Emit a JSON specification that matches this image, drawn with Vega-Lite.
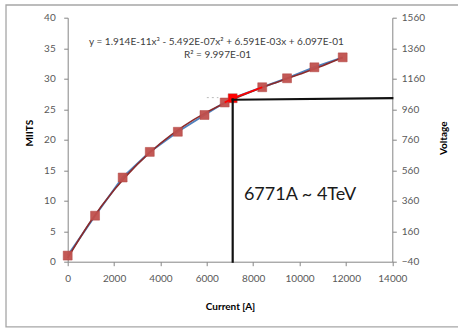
{
  "$schema": "https://vega.github.io/schema/vega-lite/v6.json",
  "autosize": {"type": "none"},
  "width": 324.6,
  "height": 244,
  "padding": {"left": 67.7, "top": 17.7, "right": 65.7, "bottom": 67.3},
  "background": "#ffffff",
  "config": {
    "view": {"stroke": null},
    "axis": {"grid": false, "domainColor": "#868686", "tickColor": "#868686", "tickSize": 4, "labelColor": "#595959", "labelFont": "Lato", "labelFontSize": 10, "labelOverlap": false, "labelFlush": false, "format": "d", "titleFont": "Lato", "titleFontSize": 10, "titleFontWeight": "bold", "titleColor": "#000000"}
  },
  "datasets": {
    "points": [
      {"current": 0, "miits": 1.0},
      {"current": 1180, "miits": 7.54},
      {"current": 2370, "miits": 13.8},
      {"current": 3540, "miits": 18.0},
      {"current": 4750, "miits": 21.3},
      {"current": 5900, "miits": 24.05},
      {"current": 6771, "miits": 26.1},
      {"current": 7116, "miits": 26.8},
      {"current": 8390, "miits": 28.6},
      {"current": 9460, "miits": 30.07},
      {"current": 10640, "miits": 31.87},
      {"current": 11860, "miits": 33.5}
    ],
    "trend": [
      {"current": 0, "miits": 0.61},
      {"current": 1000, "miits": 6.671},
      {"current": 2000, "miits": 11.748},
      {"current": 3000, "miits": 15.957},
      {"current": 4000, "miits": 19.412},
      {"current": 5000, "miits": 22.227},
      {"current": 6000, "miits": 24.519},
      {"current": 7000, "miits": 26.401},
      {"current": 8000, "miits": 27.989},
      {"current": 9000, "miits": 29.397},
      {"current": 10000, "miits": 30.74},
      {"current": 11000, "miits": 32.133},
      {"current": 11860, "miits": 33.46}
    ],
    "highlight": [
      {"current": 6771, "miits": 26.1},
      {"current": 7116, "miits": 26.8},
      {"current": 8390, "miits": 28.6}
    ]
  },
  "layer": [
    {
      "data": {"values": [{"current": 0, "miits": 0}, {"current": 14000, "miits": 40}]},
      "mark": {"type": "point", "opacity": 0},
      "encoding": {
        "x": {"field": "current", "type": "quantitative", "scale": {"domain": [0, 14000], "nice": false}, "axis": {"values": [0, 2000, 4000, 6000, 8000, 10000, 12000, 14000], "title": "Current [A]", "labelPadding": 8, "titleX": 162.3, "titleY": 45, "titleBaseline": "middle"}},
        "y": {"field": "miits", "type": "quantitative", "scale": {"domain": [0, 40], "nice": false}, "axis": {"orient": "left", "values": [0, 5, 10, 15, 20, 25, 30, 35, 40], "title": "MIITS", "labelPadding": 8.5, "titleAngle": 270, "titleBaseline": "middle", "titleX": -38, "titleY": 115}}
      }
    },
    {
      "encoding": {
        "x": {"field": "current", "type": "quantitative", "scale": {"domain": [0, 14000], "nice": false}},
        "y": {"field": "miits", "type": "quantitative", "scale": {"domain": [0, 40], "nice": false}, "axis": null}
      },
      "layer": [
        {
          "data": {"values": [{"current": -2661, "x2": 17000, "miits": 42.08, "y2": -10.7}]},
          "mark": {"type": "rect", "fill": null, "fillOpacity": 0, "stroke": "#a6a6a6", "strokeWidth": 1.3},
          "encoding": {
            "x2": {"field": "x2"},
            "y2": {"field": "y2"}
          }
        },
        {
          "data": {"name": "points"},
          "mark": {"type": "line", "color": "#4f81bd", "strokeWidth": 2}
        },
        {
          "data": {"name": "trend"},
          "mark": {"type": "line", "color": "#8b2a2a", "strokeWidth": 1.6, "interpolate": "monotone"}
        },
        {
          "data": {"name": "points"},
          "mark": {"type": "square", "size": 80, "fill": "#c0504d", "fillOpacity": 0.95, "stroke": "#b04440", "strokeWidth": 0.5}
        },
        {
          "data": {"name": "highlight"},
          "mark": {"type": "line", "color": "#ff0000", "strokeWidth": 1.8}
        },
        {
          "data": {"values": [{"current": 7116, "miits": 26.8}]},
          "mark": {"type": "square", "size": 70, "fill": "#ff0000", "opacity": 1}
        },
        {
          "data": {"values": [{"current": 6000, "miits": 26.9, "x2": 6500, "y2": 26.9}]},
          "mark": {"type": "rule", "color": "#bbbbbb", "strokeWidth": 1, "strokeDash": [2, 3]},
          "encoding": {
            "x2": {"field": "x2"},
            "y2": {"field": "y2"}
          }
        },
        {
          "data": {"values": [{"current": 7116, "miits": 0, "x2": 7116, "y2": 26.6}, {"current": 7116, "miits": 26.55, "x2": 14000, "y2": 26.8}]},
          "mark": {"type": "rule", "color": "#111111", "strokeWidth": 2.2, "strokeCap": "square"},
          "encoding": {
            "x2": {"field": "x2"},
            "y2": {"field": "y2"}
          }
        },
        {
          "data": {"values": [
            {"current": 6413, "miits": 36.0, "label": "y = 1.914E-11x³ - 5.492E-07x² + 6.591E-03x + 6.097E-01"},
            {"current": 6460, "miits": 33.9, "label": "R² = 9.997E-01"}
          ]},
          "mark": {"type": "text", "font": "Lato", "fontSize": 10, "color": "#404040", "align": "center", "baseline": "middle"},
          "encoding": {"text": {"field": "label"}}
        },
        {
          "data": {"values": [{"current": 10019, "miits": 10.9, "label": "6771A ~ 4TeV"}]},
          "mark": {"type": "text", "font": "Lato", "fontSize": 18, "color": "#1a1a1a", "align": "center", "baseline": "middle"},
          "encoding": {"text": {"field": "label"}}
        }
      ]
    },
    {
      "data": {"values": [{"current": 0, "voltage": -40}, {"current": 0, "voltage": 1560}]},
      "mark": {"type": "point", "opacity": 0},
      "encoding": {
        "x": {"field": "current", "type": "quantitative", "scale": {"domain": [0, 14000], "nice": false}},
        "y": {"field": "voltage", "type": "quantitative", "scale": {"domain": [-40, 1560], "nice": false, "zero": false}, "axis": {"orient": "right", "values": [-40, 160, 360, 560, 760, 960, 1160, 1360, 1560], "title": "Voltage", "labelPadding": 5, "titleAngle": 270, "titleBaseline": "middle", "titleX": 51, "titleY": 120}}
      }
    }
  ],
  "resolve": {"scale": {"y": "independent"}}
}
